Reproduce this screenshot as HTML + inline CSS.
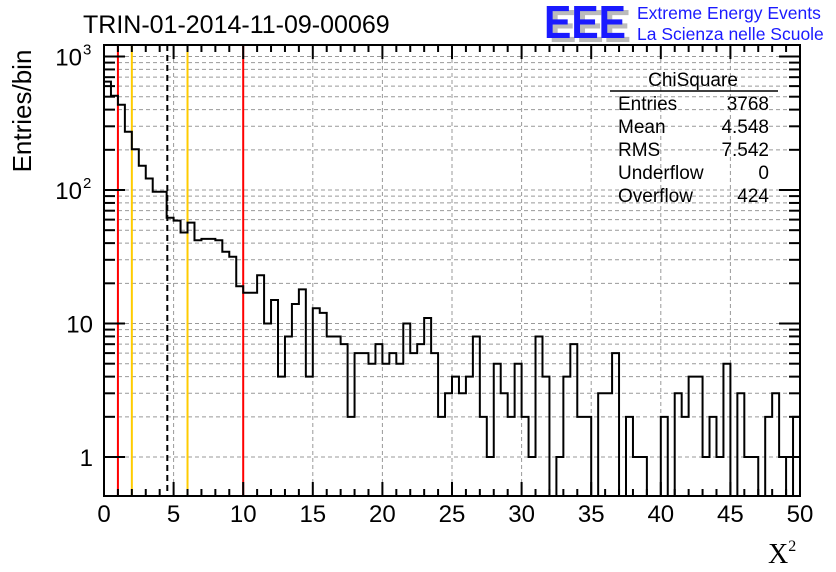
<!DOCTYPE html>
<html><head><meta charset="utf-8"><style>
body{margin:0;background:#fff;width:836px;height:572px;overflow:hidden;font-family:"Liberation Sans",sans-serif}
svg{display:block}
</style></head><body>
<svg id="chart" width="836" height="572" xmlns="http://www.w3.org/2000/svg">
<g id="grid"></g>
<g id="lines"></g>
<path id="hist" fill="none" stroke="#000" stroke-width="2"></path>
<rect x="104" y="45" width="696" height="451" fill="none" stroke="#000" stroke-width="2"/>
<g id="ticks"></g>
<g id="labels" font-size="24"></g>
<text x="83" y="33" font-size="25">TRIN-01-2014-11-09-00069</text>
<text transform="translate(31,111) rotate(-90)" text-anchor="middle" font-size="26">Entries/bin</text>
<text x="768" y="563" font-family="Liberation Serif,serif" font-size="28">X<tspan font-size="16" dy="-12">2</tspan></text>
<g>
<text x="549" y="42" font-size="46" font-weight="bold" fill="#bbb" textLength="82" lengthAdjust="spacingAndGlyphs">EEE</text>
<text x="544" y="38" font-size="46" font-weight="bold" fill="#1a1aff" textLength="82" lengthAdjust="spacingAndGlyphs">EEE</text>
<text x="637" y="19" font-size="17.5" fill="#1a1aff">Extreme Energy Events</text>
<text x="637" y="40" font-size="17.5" fill="#1a1aff">La Scienza nelle Scuole</text>
</g>
<g font-size="19">
<text x="693" y="86" text-anchor="middle">ChiSquare</text>
<line x1="610" y1="91" x2="778" y2="91" stroke="#000" stroke-width="1.5"/>
<text x="618" y="110">Entries</text><text x="769" y="110" text-anchor="end">3768</text>
<text x="618" y="133">Mean</text><text x="769" y="133" text-anchor="end">4.548</text>
<text x="618" y="156">RMS</text><text x="769" y="156" text-anchor="end">7.542</text>
<text x="618" y="179">Underflow</text><text x="769" y="179" text-anchor="end">0</text>
<text x="618" y="202">Overflow</text><text x="769" y="202" text-anchor="end">424</text>
</g>
</svg>
<script>
const binCounts = [648,508,435,273,202,152,122,97,97,62,59,48,57,42,43,43,42,34.5,31.6,19,
17,17,23,10,15,4,8,14,18,4,13,12,8,8,7,2,6,6,5,7,
5,6,5,10,6,7,11,6,2,3,4,3,4,8,2,1,5,3,2,5,
2,1,8,4,0,1,4,7,2,2,0,3,3,6,0,2,1,1,0,0,
2,0,3,2,4,4,1,2,1,5,0,3,1,1,0,2,3,1,0,2];
const xTickLabels = ["0","5","10","15","20","25","30","35","40","45","50"];
const xMin = 0, xMax = 50, binWidth = 0.5;
const refRed = [1, 10];
const refYellow = [2, 6];
const meanValue = 4.548;

const NS = "http://www.w3.org/2000/svg";
const X0 = 104, X1 = 800, Y0 = 45, Y1 = 496;
const sx = v => X0 + (v - xMin) / (xMax - xMin) * (X1 - X0);
const sy = v => v <= 0 ? Y1 : Math.min(Y1, Math.max(Y0, 457 - 133.5 * Math.log10(v)));
function mk(tag, attrs, parent) { const e = document.createElementNS(NS, tag); for (const k in attrs) e.setAttribute(k, attrs[k]); parent.appendChild(e); return e; }

const grid = document.getElementById('grid');
for (let i = 1; i < xTickLabels.length - 1; i++) {
  const x = sx(+xTickLabels[i]);
  const g = mk('line', {x1: x, x2: x, y1: Y0, y2: Y1, stroke: '#999', 'stroke-dasharray': '4,3', 'stroke-width': 1}, grid);
  
  
}
const ticks = document.getElementById('ticks');
for (let d = 0; d <= 3; d++) for (let m = 1; m <= 9; m++) {
  const v = m * Math.pow(10, d); const y = sy(v);
  if (v < 0.5 || y <= Y0 + 0.5 || y >= Y1) continue;
  const g = mk('line', {x1: X0, x2: X1, y1: y, y2: y, stroke: '#999', 'stroke-dasharray': '4,3', 'stroke-width': 1}, grid);
  
  
  const len = m === 1 ? 21 : 11;
  mk('line', {x1: X0, x2: X0 + len, y1: y, y2: y, stroke: '#000', 'stroke-width': 2}, ticks);
  mk('line', {x1: X1, x2: X1 - len, y1: y, y2: y, stroke: '#000', 'stroke-width': 2}, ticks);
}
for (let v = xMin; v <= xMax; v++) {
  const x = sx(v); const len = v % 5 === 0 ? 14 : 7;
  mk('line', {x1: x, x2: x, y1: Y1, y2: Y1 - len, stroke: '#000', 'stroke-width': 2}, ticks);
  mk('line', {x1: x, x2: x, y1: Y0, y2: Y0 + len, stroke: '#000', 'stroke-width': 2}, ticks);
}
const labels = document.getElementById('labels');
xTickLabels.forEach(t => {
  const e = mk('text', {x: sx(+t), y: 522, 'text-anchor': 'middle'}, labels);
  e.textContent = t;
  
  
});
[[1,"1"],[10,"10"],[100,"10"],[1000,"10"]].forEach(([v,t],i) => {
  const e = mk('text', {x: i < 2 ? 93 : 82, y: sy(v) + 9, 'text-anchor': 'end'}, labels);
  e.textContent = t;
  
  
  if (i >= 2) { const s = mk('text', {x: 83, y: sy(v) - 2, 'font-size': 15}, labels); s.textContent = String(i); }
});
const lines = document.getElementById('lines');
refRed.forEach(v => { const l = mk('line', {x1: sx(v), x2: sx(v), y1: Y0, y2: Y1, stroke: '#f00', 'stroke-width': 2}, lines);   });
refYellow.forEach(v => { const l = mk('line', {x1: sx(v), x2: sx(v), y1: Y0, y2: Y1, stroke: '#fc0', 'stroke-width': 2}, lines);   });
const ml = mk('line', {x1: sx(meanValue), x2: sx(meanValue), y1: Y0, y2: Y1, stroke: '#000', 'stroke-width': 2, 'stroke-dasharray': '6,4'}, lines);



let d = '';
binCounts.forEach((c, i) => {
  const xa = sx(xMin + i * binWidth), xb = sx(xMin + (i + 1) * binWidth), y = sy(c);
  d += (i === 0 ? `M${xa},${y}` : `L${xa},${y}`) + `L${xb},${y}`;
});
document.getElementById('hist').setAttribute('d', d);
</script>
</body></html>
